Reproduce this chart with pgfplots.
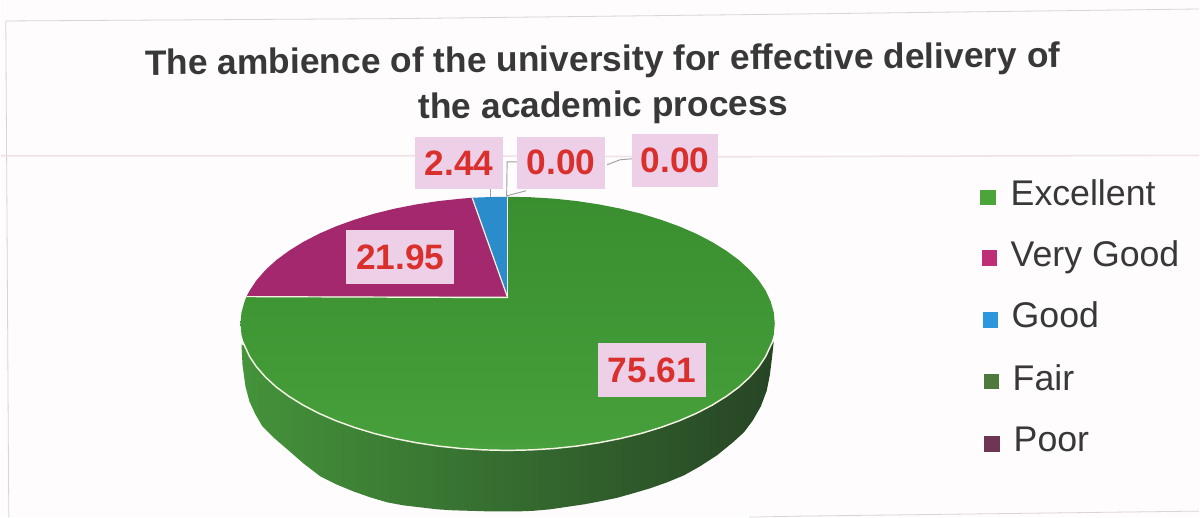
\documentclass[border=0pt]{standalone}
\usepackage{fontspec}
\setmainfont{Liberation Sans}
\usepackage{pgfplots}
\pgfplotsset{compat=1.18}
\definecolor{paper}{HTML}{FEFCFD}
\definecolor{framec}{HTML}{DAD4D8}
\definecolor{bandc}{HTML}{F0E3E8}
\definecolor{gtopa}{HTML}{3A8E2F}
\definecolor{gtopb}{HTML}{46A03B}
\definecolor{sidea}{HTML}{44933A}
\definecolor{sideb}{HTML}{38702F}
\definecolor{sidec}{HTML}{274525}
\definecolor{purp}{HTML}{A4286E}
\definecolor{blu}{HTML}{2A8CCB}
\definecolor{lblbox}{HTML}{EDD0E7}
\definecolor{lbltxt}{HTML}{D9302E}
\definecolor{leaderc}{HTML}{A0A0A0}
\definecolor{txtc}{HTML}{383838}
\definecolor{edgec}{HTML}{F4F3E4}
\definecolor{legG}{HTML}{4CA53A}
\definecolor{legV}{HTML}{BE2F78}
\definecolor{legB}{HTML}{2C97DC}
\definecolor{legF}{HTML}{4F7A3E}
\definecolor{legP}{HTML}{6F3552}
\begin{document}
\begin{tikzpicture}[
  lbl/.style={fill=lblbox,text=lbltxt,font=\fontsize{26.5}{29}\selectfont\bfseries,inner sep=0pt,align=center},
  leg/.style={anchor=base west,text=txtc,font=\fontsize{26.8}{29}\selectfont,inner sep=0pt}]
\begin{axis}[
  scale only axis,width=900pt,height=388.5pt,
  xmin=0,xmax=1200,ymin=0,ymax=518,y dir=reverse,
  hide axis,clip=false]
% background and scan traces
\addplot[fill=paper,draw=none] coordinates {(0,0)(1200,0)(1200,518)(0,518)};
\addplot[framec,line width=0.6pt] coordinates {(8,518)(5,21)(400,18.6)(800,14)(1200,9)};
\addplot[framec,line width=0.6pt] coordinates {(750,517.8)(800,516.8)(1200,511.8)};
\addplot[bandc,line width=1.2pt] coordinates {(0,156)(420,156)(720,157)(1200,155.5)};
% side of the pie
\addplot[draw=none,left color=sidea,middle color=sideb,right color=sidec] coordinates {
 (241,345)(242,365)(245,387)(249,402)(255,415)(262,427)(273,438)(287,450)(303,464)(320,477)(336,485)(353,492)(370,498)(387,503)
 (403,506)(420,508)(437,510)(453,511)(487,512)(520,512)(533,511.5)(550,510)(567,507.5)(584,505)(600,502)(617,498.5)(633,494)
 (650,489)(667,483)(684,476)(700,467)(717,456)(733,443)(744,433)(753,421)(761,407)(767,391)(770,376)(772,360)(774,342)
 (770.9,346.1)(758.9,367.4)(726.6,396.8)(679.4,421.3)(599,443.3)(507.5,451)(416,443.3)(335.6,421.3)(288.4,396.8)(256.1,367.4)(244.1,346.1)};
% top face: Excellent 75.61
\addplot[draw=none,top color=gtopa,bottom color=gtopb] coordinates {
 (507.5,297)(507.5,197)(530.8,197.5)(553.9,198.9)(576.7,201.3)(599,204.7)(620.5,208.9)(641.3,214)(660.9,220)(679.4,226.7)
 (696.7,234.2)(712.4,242.4)(726.6,251.2)(739.2,260.5)(749.9,270.3)(758.9,280.6)(765.9,291.1)(770.9,301.9)(774,312.9)(775,324)
 (774,335.1)(770.9,346.1)(765.9,356.9)(758.9,367.4)(749.9,377.7)(739.2,387.5)(726.6,396.8)(712.4,405.6)(696.7,413.8)(679.4,421.3)
 (660.9,428)(641.3,434)(620.5,439.1)(599,443.3)(576.7,446.7)(553.9,449.1)(530.8,450.5)(507.5,451)(484.2,450.5)(461.1,449.1)
 (438.3,446.7)(416,443.3)(394.5,439.1)(373.7,434)(354.1,428)(335.6,421.3)(318.3,413.8)(302.6,405.6)(288.4,396.8)(275.8,387.5)
 (265.1,377.7)(256.1,367.4)(249.1,356.9)(244.1,346.1)(241,335.1)(240,324)(241,312.9)(244.1,301.9)(246,297)};
% Very Good 21.95
\addplot[fill=purp,draw=none] coordinates {
 (507.5,297)(246,297)(249.1,291.1)(256.1,280.6)(265.1,270.3)(275.8,260.5)(288.4,251.2)(302.6,242.4)(318.3,234.2)(335.6,226.7)
 (354.1,220)(373.7,214)(394.5,208.9)(416,204.7)(438.3,201.3)(461.1,198.9)(472,198)};
% Good 2.44
\addplot[fill=blu,draw=none] coordinates {(507.5,297)(472,198)(490,197.3)(507.5,197)};
% slice edges
\addplot[edgec,line width=0.9pt] coordinates {(246,297)(507.5,298)(472,198)};
\addplot[edgec,line width=0.9pt] coordinates {(507.5,298)(507.5,197)};
\addplot[edgec,line width=1.1pt] coordinates {
 (242,342)(244.1,346.1)(249.1,356.9)(256.1,367.4)(265.1,377.7)(275.8,387.5)(288.4,396.8)(302.6,405.6)(318.3,413.8)(335.6,421.3)
 (354.1,428)(373.7,434)(394.5,439.1)(416,443.3)(438.3,446.7)(461.1,449.1)(484.2,450.5)(507.5,451)(530.8,450.5)(553.9,449.1)
 (576.7,446.7)(599,443.3)(620.5,439.1)(641.3,434)(660.9,428)(679.4,421.3)(696.7,413.8)(712.4,405.6)(726.6,396.8)(739.2,387.5)
 (749.9,377.7)(758.9,367.4)(765.9,356.9)(770.9,346.1)(774,340)};
% leaders
\addplot[leaderc,line width=0.7pt] coordinates {(490,189)(490,197)};
\addplot[leaderc,line width=0.7pt] coordinates {(517,162)(507,162)(506.5,197)};
\addplot[leaderc,line width=0.7pt] coordinates {(507,196)(526,191)};
\addplot[leaderc,line width=0.7pt] coordinates {(607,165)(620,160)(632,159)};
% labels
\node[lbl,minimum width=81pt,minimum height=41pt] at (axis cs:400,257.5) {21.95};
\node[lbl,minimum width=66pt,minimum height=39pt] at (axis cs:459,163) {2.44};
\node[lbl,minimum width=66pt,minimum height=39pt] at (axis cs:561,163) {0.00};
\node[lbl,minimum width=64.5pt,minimum height=39.5pt] at (axis cs:675,160.5) {0.00};
\node[lbl,minimum width=81pt,minimum height=41pt] at (axis cs:652,370.5) {75.61};
% title
\node[text=txtc,font=\fontsize{26.55}{34.5}\selectfont\bfseries,align=center,rotate=0.5,inner sep=0pt] at (axis cs:603,85)
 {The ambience of the university for effective delivery of\\the academic process};
% legend
\addplot[only marks,color=legG,mark=square*,mark size=5.4pt,mark options={draw=legG,fill=legG,line width=0pt}] coordinates {(988.5,197.5)};
\addplot[only marks,color=legV,mark=square*,mark size=5.4pt,mark options={draw=legV,fill=legV,line width=0pt}] coordinates {(990,258.5)};
\addplot[only marks,color=legB,mark=square*,mark size=5.4pt,mark options={draw=legB,fill=legB,line width=0pt}] coordinates {(991,320.5)};
\addplot[only marks,color=legF,mark=square*,mark size=5.4pt,mark options={draw=legF,fill=legF,line width=0pt}] coordinates {(992,382)};
\addplot[only marks,color=legP,mark=square*,mark size=5.4pt,mark options={draw=legP,fill=legP,line width=0pt}] coordinates {(992.5,444.5)};
\node[leg] at (axis cs:1011,206) {Excellent};
\node[leg] at (axis cs:1011,267) {Very Good};
\node[leg] at (axis cs:1012,328) {Good};
\node[leg] at (axis cs:1013,391) {Fair};
\node[leg] at (axis cs:1014,452) {Poor};
\end{axis}
\end{tikzpicture}
\end{document}
